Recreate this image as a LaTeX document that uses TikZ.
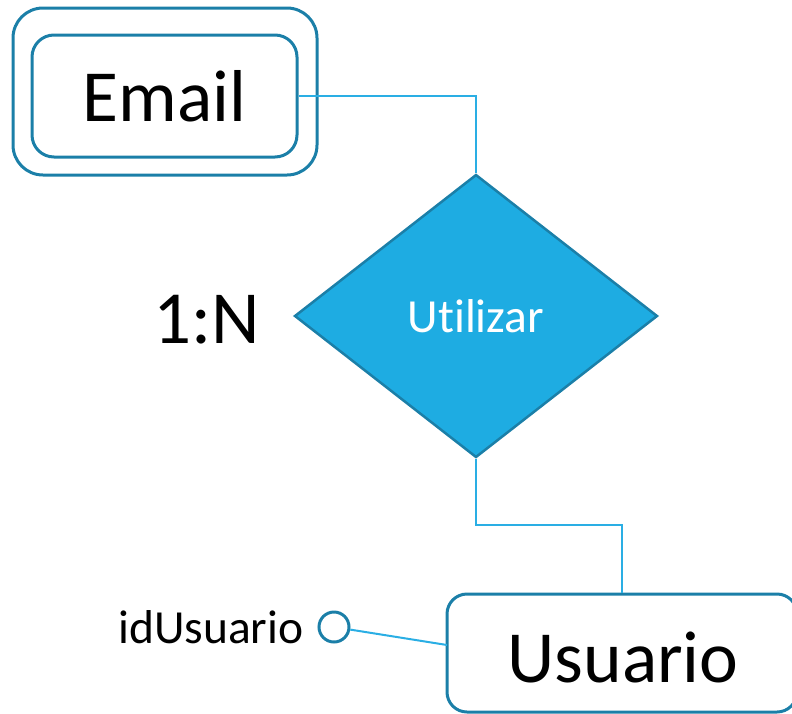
\documentclass[tikz,border=0pt]{standalone}
\usepackage{fontspec}
\setmainfont{Carlito}[Ligatures={NoCommon}]
\usetikzlibrary{shapes.geometric}
\definecolor{edgeteal}{HTML}{1B7FA8}
\definecolor{linkblue}{HTML}{2AAEE4}
\definecolor{relfill}{HTML}{1EACE2}
\tikzset{
  entbox/.style={draw=edgeteal, line width=3pt, rectangle, inner sep=0pt},
  link/.style={draw=linkblue, line width=2pt},
  bigtext/.style={font=\fontsize{73.5}{80}\selectfont},
  midtext/.style={font=\fontsize{47.5}{52}\selectfont},
}
\begin{document}
\begin{tikzpicture}[x=1pt,y=-1pt]
\useasboundingbox (0,0) rectangle (792,713);
% Email weak entity
\node[entbox, rounded corners=30pt, minimum width=304pt, minimum height=167pt] (emailout) at (165,91.5) {};
\node[entbox, rounded corners=22pt, minimum width=265pt, minimum height=122pt, bigtext] (email) at (164.5,96) {Email};
% relationship
\node[diamond, draw=edgeteal, line width=2.5pt, fill=relfill, inner sep=0pt, minimum width=363pt, minimum height=283pt, text=white, midtext] (util) at (476,316) {Utilizar};
\node[font=\fontsize{75}{80}\selectfont, anchor=center] (card) at (207,320) {1:N};
% Usuario entity
\node[entbox, rounded corners=20pt, minimum width=350pt, minimum height=118pt] (usu) at (622,653) {};
\node[bigtext] (usutext) at (623,657) {Usuario};
% attribute
\node[circle, draw=edgeteal, line width=3pt, minimum size=30pt, inner sep=0pt] (attr) at (334,627) {};
\node[midtext, anchor=east] (attrtext) at (307,627) {idUsuario};
\coordinate (c1) at (476,525);
\coordinate (uw) at (447,645);
% connectors
\draw[link] (email.east) -| (util.north);
\draw[link] (util.south) -- (c1) -| (usu.north);
\draw[link] (attr) -- (uw);
\end{tikzpicture}
\end{document}
